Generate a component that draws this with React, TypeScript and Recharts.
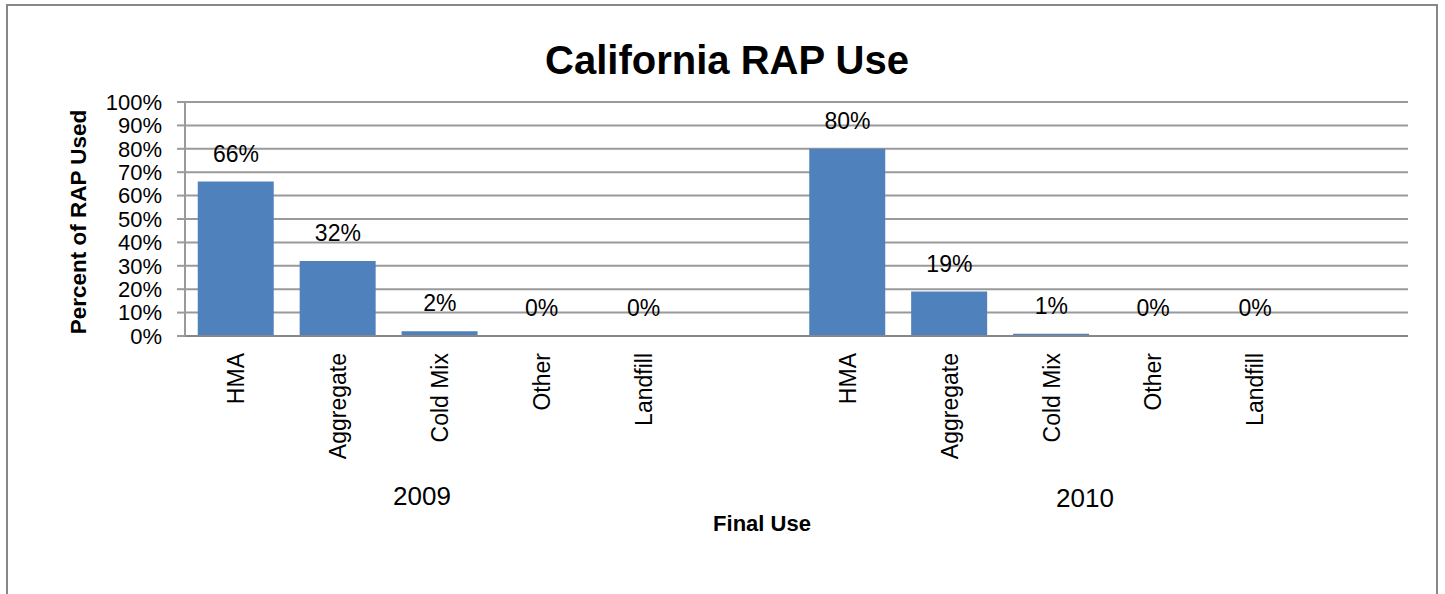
import React from "react";
import { ComposedChart, Bar, Line, XAxis, YAxis, CartesianGrid, LabelList } from "recharts";

const finalUses = ["HMA", "Aggregate", "Cold Mix", "Other", "Landfill"];
const years = ["2009", "2010"];
const use2009 = [66, 32, 2, 0, 0];
const use2010 = [80, 19, 1, 0, 0];
const yTicks = [0, 10, 20, 30, 40, 50, 60, 70, 80, 90, 100];

const FONT = "'Liberation Sans', Arial, sans-serif";
const BAR = "#4F81BD";
const GRID = "#9a9a9a";

// one blank slot after each year, like the spreadsheet layout
const rows = [
    ...finalUses.map((u, i) => ({ key: `${years[0]}-${u}`, label: u, value: use2009[i] })),
    { key: `${years[0]}-gap`, label: "", value: null },
    ...finalUses.map((u, i) => ({ key: `${years[1]}-${u}`, label: u, value: use2010[i] })),
    { key: `${years[1]}-gap`, label: "", value: null },
];

function CategoryTick(props: any) {
    const { x, y, payload } = props;
    const row = rows.find((r) => r.key === payload.value);
    if (!row || !row.label) return null;
    const ty = y + 17;
    return (
        <text
            x={x}
            y={ty}
            dy="0.36em"
            transform={`rotate(-90, ${x}, ${ty})`}
            textAnchor="end"
            fontSize={23}
            fontFamily={FONT}
            fill="#000"
        >
            {row.label}
        </text>
    );
}

export default function App() {
    return (
        <div style={{ position: "absolute", left: 0, top: 0, width: 1445, height: 594, background: "#fff", overflow: "hidden" }}>
            <div
                style={{
                    position: "absolute", left: 6, top: 4, width: 1428, height: 620,
                    borderTop: "2px solid #878787", borderLeft: "2px solid #878787", borderRight: "2px solid #878787",
                }}
            />
            <ComposedChart
                width={1445}
                height={594}
                data={rows}
                margin={{ top: 102, right: 37, left: 0, bottom: 0 }}
                barCategoryGap="12.5%"
                style={{ position: "absolute", left: 0, top: 0, fontFamily: FONT }}
            >
                <CartesianGrid vertical={false} stroke={GRID} strokeWidth={2} />
                <XAxis
                    dataKey="key"
                    height={258}
                    interval={0}
                    tickLine={false}
                    tickSize={0}
                    tickMargin={0}
                    axisLine={{ stroke: "#878787", strokeWidth: 2 }}
                    tick={<CategoryTick />}
                />
                <YAxis
                    width={185}
                    domain={[0, 100]}
                    ticks={yTicks}
                    interval={0}
                    tickFormatter={(v) => `${v}%`}
                    tickSize={8}
                    tickMargin={15}
                    tickLine={{ stroke: GRID, strokeWidth: 2 }}
                    axisLine={{ stroke: GRID, strokeWidth: 2 }}
                    tick={{ fontSize: 22, fill: "#000", fontFamily: FONT }}
                />
                <Bar dataKey="value" fill={BAR} isAnimationActive={false} />
                {/* invisible series that carries the data labels, so 0% values get one too */}
                <Line
                    dataKey="value"
                    stroke="none"
                    dot={false}
                    activeDot={false}
                    connectNulls={false}
                    isAnimationActive={false}
                >
                    <LabelList
                        dataKey="value"
                        position="top"
                        offset={20}
                        formatter={(v: any) => (v === null || v === undefined ? "" : `${v}%`)}
                        style={{ fontSize: 23, fill: "#000", fontFamily: FONT }}
                    />
                </Line>
            </ComposedChart>
            <svg width={1445} height={594} style={{ position: "absolute", left: 0, top: 0, pointerEvents: "none" }}>
                <text x={727} y={74} textAnchor="middle" fontSize={40} fontWeight="bold" fontFamily={FONT} fill="#000">
                    California RAP Use
                </text>
                <text
                    x={86}
                    y={222}
                    transform="rotate(-90, 86, 222)"
                    textAnchor="middle"
                    fontSize={22.5}
                    fontWeight="bold"
                    fontFamily={FONT}
                    fill="#000"
                >
                    Percent of RAP Used
                </text>
                <text x={422} y={505} textAnchor="middle" fontSize={26} fontFamily={FONT} fill="#000">
                    {years[0]}
                </text>
                <text x={1085} y={507} textAnchor="middle" fontSize={26} fontFamily={FONT} fill="#000">
                    {years[1]}
                </text>
                <text x={762} y={531} textAnchor="middle" fontSize={22} fontWeight="bold" fontFamily={FONT} fill="#000">
                    Final Use
                </text>
            </svg>
        </div>
    );
}
